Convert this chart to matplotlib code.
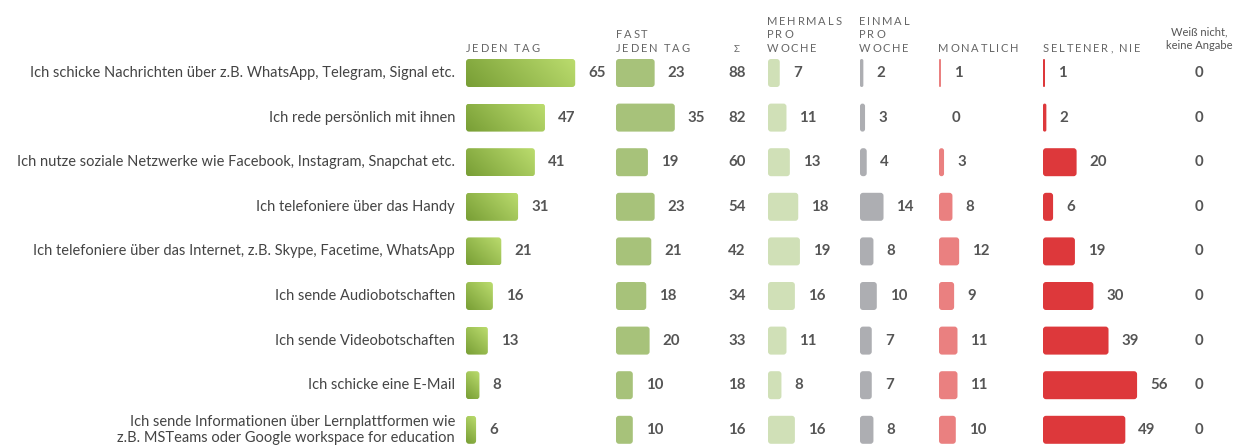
import matplotlib
matplotlib.use("Agg")
import matplotlib.pyplot as plt
from matplotlib.patches import FancyBboxPatch
import numpy as np

plt.rcParams['font.family'] = ['Lato', 'DejaVu Sans']

# --- Daten ---
labels = [
    "Ich schicke Nachrichten über z.B. WhatsApp, Telegram, Signal etc.",
    "Ich rede persönlich mit ihnen",
    "Ich nutze soziale Netzwerke wie Facebook, Instagram, Snapchat etc.",
    "Ich telefoniere über das Handy",
    "Ich telefoniere über das Internet, z.B. Skype, Facetime, WhatsApp",
    "Ich sende Audiobotschaften",
    "Ich sende Videobotschaften",
    "Ich schicke eine E-Mail",
    "Ich sende Informationen über Lernplattformen wie\nz.B. MSTeams oder Google workspace for education",
]
jeden_tag = [65, 47, 41, 31, 21, 16, 13, 8, 6]
fast_jeden_tag = [23, 35, 19, 23, 21, 18, 20, 10, 10]
summe = [88, 82, 60, 54, 42, 34, 33, 18, 16]
mehrmals = [7, 11, 13, 18, 19, 16, 11, 8, 16]
einmal = [2, 3, 4, 14, 8, 10, 7, 7, 8]
monatlich = [1, 0, 3, 8, 12, 9, 11, 11, 10]
seltener = [1, 2, 20, 6, 19, 30, 39, 56, 49]
weiss_nicht = [0, 0, 0, 0, 0, 0, 0, 0, 0]

headers = ["JEDEN TAG", "FAST\nJEDEN TAG", "MEHRMALS\nPRO\nWOCHE",
           "EINMAL\nPRO\nWOCHE", "MONATLICH", "SELTENER, NIE"]

# --- Layout (Pixel) ---
W, H = 1241, 445
fig = plt.figure(figsize=(W / 100, H / 100), dpi=100)
ax = fig.add_axes([0, 0, 1, 1])
ax.set_xlim(0, W); ax.set_ylim(H, 0); ax.axis('off')

scale = 1.68
row_y0, row_dy = 73, 44.6
bar_h = 28
txt_col = '#555555'
head_col = '#666666'

bar_cols = [
    (jeden_tag, 466, None),
    (fast_jeden_tag, 616, '#a7c27a'),
    (mehrmals, 768, '#d0e0b7'),
    (einmal, 860, '#adaeb2'),
    (monatlich, 939, '#ea8080'),
    (seltener, 1043, '#dd383b'),
]

# Verlauf für "Jeden Tag"
c_dark = np.array([0x78, 0x9e, 0x35]) / 255
c_light = np.array([0xbb, 0xdc, 0x6e]) / 255


def gradient_img(w, h):
    xs = np.linspace(0, 1, 64)
    ys = np.linspace(0, 1, 32)
    X, Y = np.meshgrid(xs, ys)
    # unten links dunkel, oben rechts hell (Bild oben = Zeile 0)
    u = (X * max(w, 1) + (1 - Y) * h) / (max(w, 1) + h)
    return c_dark + (c_light - c_dark) * u[..., None]


for i, lab in enumerate(labels):
    yc = row_y0 + i * row_dy
    ax.text(455, yc, lab, ha='right', va='center', fontsize=10.5,
            color='#444444', linespacing=1.15)
    for vals, x0, color in bar_cols:
        v = vals[i]
        w = v * scale
        if v > 0:
            w = max(w, 2)
            r = min(3, w / 2)
            patch = FancyBboxPatch((x0, yc - bar_h / 2), w, bar_h,
                                   boxstyle=f"round,pad=0,rounding_size={r}",
                                   linewidth=0, facecolor=color if color else 'none')
            ax.add_patch(patch)
            if color is None:
                im = ax.imshow(gradient_img(w, bar_h), extent=(x0, x0 + w, yc + bar_h / 2, yc - bar_h / 2),
                               aspect='auto', interpolation='bilinear', zorder=2)
                im.set_clip_path(patch)
        ax.text(x0 + w + 13, yc, str(v), ha='left', va='center', fontsize=10.8,
                fontweight='bold', color=txt_col)
    ax.text(737, yc, str(summe[i]), ha='center', va='center', fontsize=10.8,
            fontweight='bold', color=txt_col)
    ax.text(1199, yc, str(weiss_nicht[i]), ha='center', va='center', fontsize=10.8,
            fontweight='bold', color=txt_col)

ax.set_xlim(0, W); ax.set_ylim(H, 0)

# Spaltenköpfe mit Sperrung
fig.canvas.draw()
renderer = fig.canvas.get_renderer()


def spaced_text(x, y_base, s, spacing=1.8, size=8):
    lines = s.split('\n')
    lh = 13.5
    for k, line in enumerate(reversed(lines)):
        yy = y_base - k * lh
        cx = x
        for ch in line:
            t = ax.text(cx, yy, ch, ha='left', va='baseline', fontsize=size, color=head_col)
            bb = t.get_window_extent(renderer=renderer)
            cw = bb.width if ch != ' ' else size * 0.3
            cx += cw + spacing


head_x = [466, 616, 767, 859, 938, 1043]
for hx, hs in zip(head_x, headers):
    spaced_text(hx, 52, hs)
spaced_text(734, 52, "Σ", size=7)
ax.text(1199, 49, "Weiß nicht,\nkeine Angabe", ha='center', va='baseline',
        fontsize=8, color='#555555', linespacing=1.3)

fig.savefig('out.png', dpi=100, facecolor='white')
